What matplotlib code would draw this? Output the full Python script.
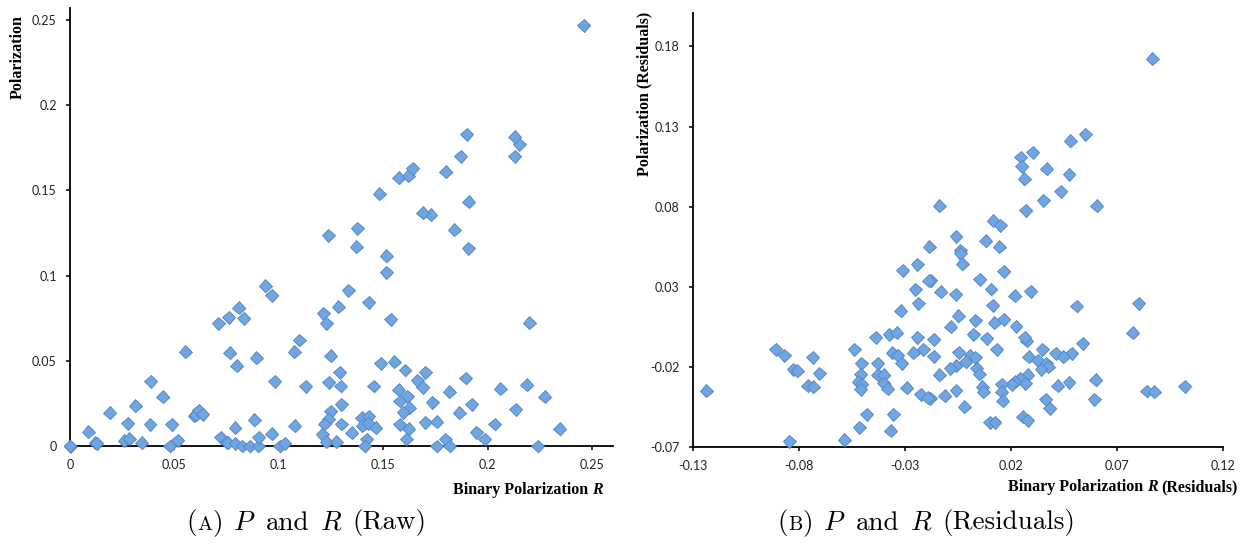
import matplotlib
matplotlib.use("Agg")
import matplotlib.pyplot as plt
import matplotlib.patheffects as pe
from matplotlib.offsetbox import TextArea, HPacker, AnnotationBbox

plt.rcParams['mathtext.fontset'] = 'cm'

# (A) raw values
raw_r = [0, 0, 0, 0,
         0.0088, 0.012, 0.0128, 0.0191, 0.0276, 0.026, 0.0284, 0.0313, 0.0343, 0.0386,
         0.0383, 0.0445, 0.0488, 0.0478, 0.0515, 0.0553, 0.0595, 0.0603, 0.0617, 0.0635,
         0.0711, 0.0759, 0.0809, 0.0833, 0.0766, 0.0799, 0.0893, 0.0721, 0.075, 0.0756,
         0.079, 0.079, 0.0825, 0.0861, 0.0901, 0.0903, 0.0882, 0.0935, 0.0967, 0.0981,
         0.0967, 0.1005, 0.1029, 0.1073, 0.1097, 0.1129, 0.1075,
         0.1212, 0.1228, 0.1249, 0.1488, 0.1552, 0.1604, 0.170, 0.1292, 0.1662, 0.1895,
         0.124, 0.1297, 0.1455, 0.169, 0.206, 0.2188, 0.1574, 0.1815, 0.1616, 0.2273,
         0.1579, 0.1735, 0.130, 0.1923, 0.1624, 0.1595, 0.2134, 0.1249, 0.1863, 0.1236,
         0.1396, 0.1431, 0.1217, 0.130, 0.1399, 0.1428, 0.1464, 0.1579, 0.1622, 0.170,
         0.1755, 0.2033, 0.2344, 0.1349, 0.1946, 0.1209, 0.1986, 0.1228, 0.1276, 0.142,
         0.161, 0.1797, 0.1411, 0.1755, 0.1818, 0.224,
         0.1515, 0.1515, 0.1332, 0.143, 0.1284, 0.1536, 0.2198, 0.137, 0.1906, 0.1236,
         0.1376, 0.184, 0.1727, 0.169, 0.191, 0.148, 0.1574, 0.162, 0.164, 0.180,
         0.187, 0.213, 0.215, 0.213, 0.190, 0.246]
raw_p = [0, 0, 0, 0,
         0.0084, 0.002, 0.0015, 0.0196, 0.0133, 0.0031, 0.0043, 0.0237, 0.002, 0.0381,
         0.0127, 0.0289, 0.0127, 0.0, 0.0033, 0.0553, 0.0178, 0.0184, 0.0211, 0.0186,
         0.072, 0.0755, 0.0812, 0.0749, 0.0548, 0.047, 0.0518, 0.0051, 0.0022, 0.0019,
         0.0016, 0.0107, 0.0, 0.0, 0.0, 0.0051, 0.0153, 0.0939, 0.0884, 0.0381,
         0.0072, 0.0, 0.0016, 0.0553, 0.0622, 0.035, 0.0119,
         0.0779, 0.072, 0.053, 0.0485, 0.0495, 0.0446, 0.0434, 0.0432, 0.0387, 0.0399,
         0.0374, 0.0352, 0.0352, 0.0344, 0.0336, 0.036, 0.0329, 0.0319, 0.0293, 0.0289,
         0.0264, 0.0258, 0.0245, 0.0245, 0.0225, 0.0198, 0.0215, 0.0205, 0.0196, 0.0158,
         0.0166, 0.0176, 0.0129, 0.0129, 0.0119, 0.0133, 0.0107, 0.0127, 0.010, 0.0139,
         0.0143, 0.0129, 0.010, 0.0078, 0.0082, 0.007, 0.0041, 0.0025, 0.0025, 0.0041,
         0.0041, 0.0041, 0.0, 0.0, 0.0, 0.0,
         0.1115, 0.102, 0.0915, 0.0843, 0.0818, 0.0745, 0.0724, 0.117, 0.116, 0.1236,
         0.1277, 0.1268, 0.1356, 0.137, 0.1434, 0.148, 0.1575, 0.1586, 0.163, 0.161,
         0.170, 0.170, 0.177, 0.1815, 0.183, 0.247]

# (B) residuals
res_r = [-0.0138, -0.0185, 0.0868, 0.0551, 0.048, 0.0304, 0.0247, 0.0253, 0.037, 0.0263,
         0.0475, 0.0437, 0.0354, 0.0272, 0.0606, 0.0118, 0.015, -0.0058, 0.0083, 0.0146,
         -0.0039, -0.0039, -0.0028, 0.0168, 0.0055, -0.0177, 0.0107, -0.0129, -0.0059, 0.022,
         0.0294, 0.0115, 0.0511, 0.0804, -0.0047, 0.0032, 0.0123, 0.0168, -0.0083, 0.0225,
         0.0775, 0.0024, -0.0162, 0.0087, 0.0275, 0.0267, 0.054, 0.0134, 0.0349, 0.0412,
         0.0488, 0.0448, -0.0162, -0.0044, 0.0008, 0.0032, -0.0012, -0.0058, 0.0286, 0.0327,
         0.0367, 0.0377, 0.0343, 0.004, 0.0051, -0.0138, 0.028, 0.0244, 0.022, 0.0205,
         0.0269, 0.0158, 0.0422, 0.0475, 0.0601, 0.1022, 0.0842, 0.0877, 0.0066, 0.0071,
         -0.0058, -0.011, -0.018, 0.0158, 0.0162, 0.0365, 0.0594, 0.0385, -0.0019, 0.0257,
         0.028, 0.0102, 0.0126,
         -0.1237, -0.0908, -0.0868, -0.0825, -0.0807, -0.0734, -0.0703, -0.0758, -0.0731, -0.0844,
         -0.0585, -0.0538, -0.0506, -0.0508, -0.0519, -0.0503, -0.0508, -0.0479, -0.0514, -0.0437,
         -0.0427, -0.0427, -0.0398, -0.0398, -0.038, -0.0373, -0.0338, -0.0358, -0.0333, -0.0314,
         -0.0354, -0.0366, -0.0291, -0.0309, -0.0241, -0.0187, -0.025, -0.0236, -0.0319, -0.0241,
         -0.026, -0.0212, -0.0224, -0.0192, -0.0086]
res_p = [0.0806, 0.0551, 0.1723, 0.1253, 0.121, 0.1141, 0.111, 0.1052, 0.1037, 0.0973,
         0.1002, 0.0896, 0.084, 0.0778, 0.0806, 0.0713, 0.0684, 0.0615, 0.0588, 0.0551,
         0.053, 0.051, 0.0443, 0.0399, 0.0349, 0.0343, 0.0287, 0.027, 0.0254, 0.0245,
         0.0273, 0.0187, 0.0181, 0.0198, 0.0119, 0.0092, 0.0077, 0.0098, 0.0052, 0.0054,
         0.0014, 0.0004, -0.0027, -0.002, -0.0035, -0.0015, -0.0052, -0.0089, -0.0089, -0.0114,
         -0.0114, -0.0135, -0.0131, -0.0108, -0.0125, -0.0139, -0.0168, -0.0191, -0.0135, -0.0156,
         -0.0176, -0.0197, -0.0214, -0.0207, -0.0243, -0.0249, -0.0249, -0.027, -0.0291, -0.0307,
         -0.0301, -0.0307, -0.0316, -0.0295, -0.028, -0.0318, -0.0349, -0.0353, -0.0322, -0.0353,
         -0.0343, -0.0378, -0.0395, -0.0353, -0.041, -0.0399, -0.0401, -0.0457, -0.0447, -0.0509,
         -0.053, -0.0544, -0.0544,
         -0.0347, -0.0089, -0.0126, -0.0212, -0.0224, -0.0139, -0.0239, -0.0316, -0.0322, -0.0661,
         -0.0654, -0.0089, -0.0176, -0.0245, -0.0291, -0.0307, -0.0337, -0.0494, -0.0575, -0.0014,
         -0.0176, -0.0249, -0.0249, -0.0301, -0.0335, 0.0004, 0.0014, -0.011, -0.0125, -0.0176,
         -0.0494, -0.0596, -0.0328, 0.0405, 0.0441, 0.0339, 0.0285, 0.0198, 0.015, -0.0014,
         -0.011, -0.0089, -0.037, -0.0391, -0.0207]

raw_xticks = [0, 0.05, 0.1, 0.15, 0.2, 0.25]
raw_xlabels = ["0", "0.05", "0.1", "0.15", "0.2", "0.25"]
raw_yticks = [0, 0.05, 0.1, 0.15, 0.2, 0.25]
raw_ylabels = ["0", "0.05", "0.1", "0.15", "0.2", "0.25"]
res_xticks = [-0.13, -0.08, -0.03, 0.02, 0.07, 0.12]
res_xlabels = ["-0.13", "-0.08", "-0.03", "0.02", "0.07", "0.12"]
res_yticks = [-0.07, -0.02, 0.03, 0.08, 0.13, 0.18]
res_ylabels = ["-0.07", "-0.02", "0.03", "0.08", "0.13", "0.18"]

W, H = 1253, 548
fig = plt.figure(figsize=(W / 100, H / 100), dpi=100)

def px_axes(x0, x1, ytop, ybot):
    return fig.add_axes([x0 / W, (H - ybot) / H, (x1 - x0) / W, (ybot - ytop) / H])

def style(ax, xt, xl, yt, yl):
    for s in ['top', 'right']:
        ax.spines[s].set_visible(False)
    for s in ['left', 'bottom']:
        ax.spines[s].set_linewidth(1.3)
    ax.set_xticks(xt)
    ax.set_xticklabels(xl)
    ax.set_yticks(yt)
    ax.set_yticklabels(yl)
    ax.tick_params(direction='out', length=3, width=1.1, pad=6.5,
                   labelsize=9, labelcolor='#222222')
    for t in ax.get_xticklabels() + ax.get_yticklabels():
        t.set_family('Lato')

def scatter(ax, x, y):
    ax.plot(x, y, 'D', ms=6.6, mfc='#6fa5e0', mec='#5284c4', mew=0.6,
            clip_on=False, zorder=3,
            path_effects=[pe.SimplePatchShadow(offset=(0.8, -0.8), shadow_rgbFace='gray', alpha=0.35),
                          pe.Normal()])

def rich(pieces, xy, align, sep):
    boxes = [TextArea(s, textprops=p) for s, p in pieces]
    pack = HPacker(children=boxes, align='baseline', pad=0, sep=sep)
    ab = AnnotationBbox(pack, xy, xycoords='figure fraction', box_alignment=align,
                        frameon=False, pad=0)
    fig.add_artist(ab)

ax1 = px_axes(70, 613, 8, 446)
scatter(ax1, raw_r, raw_p)
ax1.set_xlim(0, 0.26)
ax1.set_ylim(0, 0.257)
style(ax1, raw_xticks, raw_xlabels, raw_yticks, raw_ylabels)

ax2 = px_axes(692.7, 1222.7, 13.3, 447.3)
scatter(ax2, res_r, res_p)
ax2.set_xlim(-0.13, 0.12)
ax2.set_ylim(-0.07, 0.2006)
style(ax2, res_xticks, res_xlabels, res_yticks, res_ylabels)

bold = dict(family='Liberation Serif', weight='bold', size=11.5, color='black')
boldit = dict(family='Liberation Serif', weight='bold', style='italic', size=11.5, color='black')

fig.text(18 / W, 1 - 57 / H, 'Polarization', rotation=90, ha='center', va='center', **bold)
fig.text(644 / W, 1 - 94 / H, 'Polarization (Residuals)', rotation=90, ha='center', va='center', **bold)

rich([('Binary Polarization', bold), ('R', boldit)], (603 / W, 1 - 490 / H), (1, 0.5), 3)
rich([('Binary Polarization', bold), ('R', boldit), ('(Residuals)', bold)],
     (1238 / W, 1 - 487 / H), (1, 0.5), 3)

cm = dict(family='cmr10', size=19.5, color='black')
cms = dict(family='cmr10', size=14.5, color='black')
mt = dict(size=19.5, color='black')

def caption(letter, word, cx):
    boxes = [TextArea(s, textprops=p) for s, p in [('(', cm), (letter, cms), (')', cm)]]
    lab = HPacker(children=boxes, align='baseline', pad=0, sep=0)
    rest = [TextArea(s, textprops=p) for s, p in
            [('$P$', mt), ('and', cm), ('$R$', mt), (word, cm)]]
    pack = HPacker(children=[lab] + rest, align='baseline', pad=0, sep=7.5)
    fig.add_artist(AnnotationBbox(pack, (cx / W, 1 - 523 / H), xycoords='figure fraction',
                                  box_alignment=(0.5, 0.5), frameon=False, pad=0))

caption('A', '(Raw)', 306.5)
caption('B', '(Residuals)', 926.5)

fig.savefig('out.png', dpi=100)
